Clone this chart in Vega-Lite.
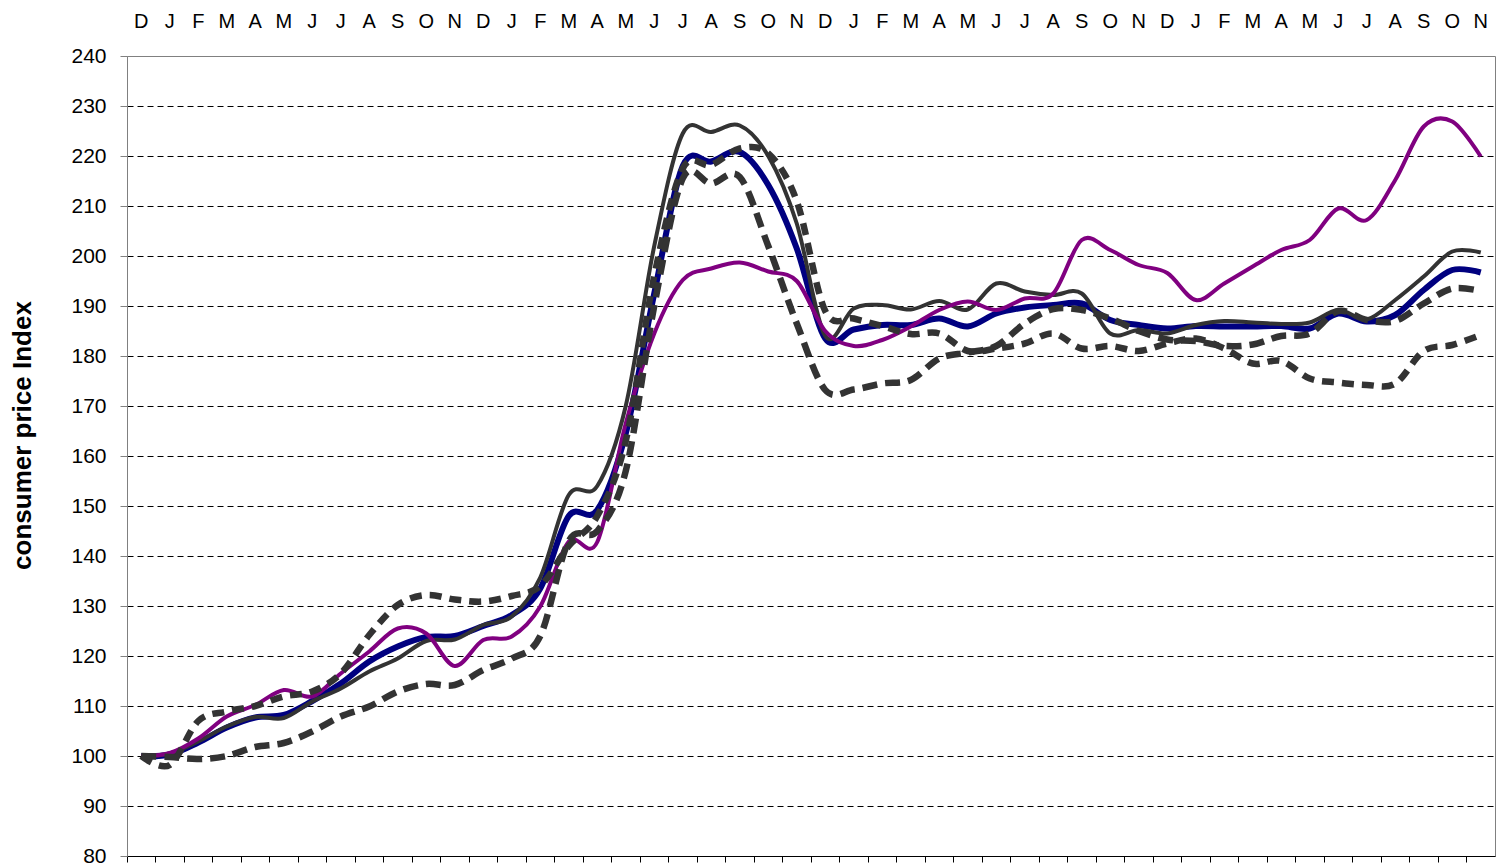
{
  "$schema": "https://vega.github.io/schema/vega-lite/v6.json",
  "width": 1368,
  "height": 800,
  "autosize": {"type": "none"},
  "padding": {"left": 127, "top": 56, "right": 2, "bottom": 11},
  "background": "white",
  "config": {"view": {"stroke": "#808080", "strokeWidth": 1}, "font": "Liberation Sans"},
  "datasets": {
    "cpi": [
      {"s":"s1","i":0,"v":100},{"s":"s1","i":1,"v":100.3},{"s":"s1","i":2,"v":102.7},{"s":"s1","i":3,"v":105.7},{"s":"s1","i":4,"v":107.7},{"s":"s1","i":5,"v":108.2},{"s":"s1","i":6,"v":111},{"s":"s1","i":7,"v":114.5},{"s":"s1","i":8,"v":118.9},{"s":"s1","i":9,"v":121.9},{"s":"s1","i":10,"v":123.8},{"s":"s1","i":11,"v":124},{"s":"s1","i":12,"v":126},{"s":"s1","i":13,"v":128.2},{"s":"s1","i":14,"v":133.5},{"s":"s1","i":15,"v":148},{"s":"s1","i":16,"v":149.2},{"s":"s1","i":17,"v":164.5},{"s":"s1","i":18,"v":192.5},{"s":"s1","i":19,"v":218},{"s":"s1","i":20,"v":218.9},{"s":"s1","i":21,"v":220.8},{"s":"s1","i":22,"v":214.2},{"s":"s1","i":23,"v":201.5},{"s":"s1","i":24,"v":183.5},{"s":"s1","i":25,"v":185.3},{"s":"s1","i":26,"v":186.2},{"s":"s1","i":27,"v":186.2},{"s":"s1","i":28,"v":187.5},{"s":"s1","i":29,"v":185.9},{"s":"s1","i":30,"v":188.5},{"s":"s1","i":31,"v":189.7},{"s":"s1","i":32,"v":190.2},{"s":"s1","i":33,"v":190.5},{"s":"s1","i":34,"v":187.2},{"s":"s1","i":35,"v":186.2},{"s":"s1","i":36,"v":185.5},{"s":"s1","i":37,"v":186},{"s":"s1","i":38,"v":185.9},{"s":"s1","i":39,"v":185.9},{"s":"s1","i":40,"v":186},{"s":"s1","i":41,"v":185.5},{"s":"s1","i":42,"v":188.5},{"s":"s1","i":43,"v":186.9},{"s":"s1","i":44,"v":188.2},{"s":"s1","i":45,"v":193.2},{"s":"s1","i":46,"v":197.2},{"s":"s1","i":47,"v":196.7},
      {"s":"s2","i":0,"v":100},{"s":"s2","i":1,"v":100.5},{"s":"s2","i":2,"v":102.9},{"s":"s2","i":3,"v":105.9},{"s":"s2","i":4,"v":107.8},{"s":"s2","i":5,"v":107.6},{"s":"s2","i":6,"v":110.9},{"s":"s2","i":7,"v":113.5},{"s":"s2","i":8,"v":116.9},{"s":"s2","i":9,"v":119.5},{"s":"s2","i":10,"v":123},{"s":"s2","i":11,"v":123.3},{"s":"s2","i":12,"v":126.2},{"s":"s2","i":13,"v":127.9},{"s":"s2","i":14,"v":135.7},{"s":"s2","i":15,"v":152.2},{"s":"s2","i":16,"v":154},{"s":"s2","i":17,"v":170},{"s":"s2","i":18,"v":202},{"s":"s2","i":19,"v":224.5},{"s":"s2","i":20,"v":224.8},{"s":"s2","i":21,"v":226.1},{"s":"s2","i":22,"v":220},{"s":"s2","i":23,"v":206.5},{"s":"s2","i":24,"v":184},{"s":"s2","i":25,"v":189.5},{"s":"s2","i":26,"v":190.2},{"s":"s2","i":27,"v":189.3},{"s":"s2","i":28,"v":191},{"s":"s2","i":29,"v":189.3},{"s":"s2","i":30,"v":194.5},{"s":"s2","i":31,"v":192.9},{"s":"s2","i":32,"v":192.2},{"s":"s2","i":33,"v":192.5},{"s":"s2","i":34,"v":184.5},{"s":"s2","i":35,"v":185.2},{"s":"s2","i":36,"v":184.5},{"s":"s2","i":37,"v":186.2},{"s":"s2","i":38,"v":187},{"s":"s2","i":39,"v":186.7},{"s":"s2","i":40,"v":186.4},{"s":"s2","i":41,"v":186.7},{"s":"s2","i":42,"v":189.2},{"s":"s2","i":43,"v":187.3},{"s":"s2","i":44,"v":191.2},{"s":"s2","i":45,"v":195.9},{"s":"s2","i":46,"v":200.9},{"s":"s2","i":47,"v":200.7},
      {"s":"s3","i":0,"v":100},{"s":"s3","i":1,"v":100.6},{"s":"s3","i":2,"v":103.5},{"s":"s3","i":3,"v":107.9},{"s":"s3","i":4,"v":110.2},{"s":"s3","i":5,"v":113.2},{"s":"s3","i":6,"v":111.9},{"s":"s3","i":7,"v":116.5},{"s":"s3","i":8,"v":120.9},{"s":"s3","i":9,"v":125.5},{"s":"s3","i":10,"v":124.5},{"s":"s3","i":11,"v":118},{"s":"s3","i":12,"v":123.2},{"s":"s3","i":13,"v":123.9},{"s":"s3","i":14,"v":129.9},{"s":"s3","i":15,"v":142.9},{"s":"s3","i":16,"v":142.8},{"s":"s3","i":17,"v":166.5},{"s":"s3","i":18,"v":184.5},{"s":"s3","i":19,"v":195.2},{"s":"s3","i":20,"v":197.5},{"s":"s3","i":21,"v":198.7},{"s":"s3","i":22,"v":196.9},{"s":"s3","i":23,"v":195},{"s":"s3","i":24,"v":185},{"s":"s3","i":25,"v":182},{"s":"s3","i":26,"v":183.2},{"s":"s3","i":27,"v":185.9},{"s":"s3","i":28,"v":189.2},{"s":"s3","i":29,"v":190.9},{"s":"s3","i":30,"v":189.2},{"s":"s3","i":31,"v":191.5},{"s":"s3","i":32,"v":192.5},{"s":"s3","i":33,"v":203.2},{"s":"s3","i":34,"v":201.2},{"s":"s3","i":35,"v":198.2},{"s":"s3","i":36,"v":196.6},{"s":"s3","i":37,"v":191.2},{"s":"s3","i":38,"v":194.5},{"s":"s3","i":39,"v":197.9},{"s":"s3","i":40,"v":201.2},{"s":"s3","i":41,"v":203.2},{"s":"s3","i":42,"v":209.5},{"s":"s3","i":43,"v":207.2},{"s":"s3","i":44,"v":215.2},{"s":"s3","i":45,"v":225.9},{"s":"s3","i":46,"v":226.9},{"s":"s3","i":47,"v":219.9},
      {"s":"s4","i":0,"v":100},{"s":"s4","i":1,"v":98.2},{"s":"s4","i":2,"v":107},{"s":"s4","i":3,"v":108.9},{"s":"s4","i":4,"v":110},{"s":"s4","i":5,"v":111.9},{"s":"s4","i":6,"v":112.9},{"s":"s4","i":7,"v":116.5},{"s":"s4","i":8,"v":124.2},{"s":"s4","i":9,"v":130.2},{"s":"s4","i":10,"v":132.2},{"s":"s4","i":11,"v":131.3},{"s":"s4","i":12,"v":130.9},{"s":"s4","i":13,"v":132},{"s":"s4","i":14,"v":134},{"s":"s4","i":15,"v":142},{"s":"s4","i":16,"v":148},{"s":"s4","i":17,"v":163},{"s":"s4","i":18,"v":196},{"s":"s4","i":19,"v":217.5},{"s":"s4","i":20,"v":218.2},{"s":"s4","i":21,"v":221.5},{"s":"s4","i":22,"v":220.5},{"s":"s4","i":23,"v":211},{"s":"s4","i":24,"v":189},{"s":"s4","i":25,"v":187.5},{"s":"s4","i":26,"v":186},{"s":"s4","i":27,"v":184.4},{"s":"s4","i":28,"v":184.5},{"s":"s4","i":29,"v":181},{"s":"s4","i":30,"v":181.5},{"s":"s4","i":31,"v":182.5},{"s":"s4","i":32,"v":184.5},{"s":"s4","i":33,"v":181.5},{"s":"s4","i":34,"v":182},{"s":"s4","i":35,"v":181},{"s":"s4","i":36,"v":182.5},{"s":"s4","i":37,"v":183.5},{"s":"s4","i":38,"v":181.5},{"s":"s4","i":39,"v":178.5},{"s":"s4","i":40,"v":179},{"s":"s4","i":41,"v":175.5},{"s":"s4","i":42,"v":174.7},{"s":"s4","i":43,"v":174.2},{"s":"s4","i":44,"v":174.5},{"s":"s4","i":45,"v":181},{"s":"s4","i":46,"v":182.2},{"s":"s4","i":47,"v":184.2},
      {"s":"s5","i":0,"v":100},{"s":"s5","i":1,"v":99.8},{"s":"s5","i":2,"v":99.4},{"s":"s5","i":3,"v":100},{"s":"s5","i":4,"v":101.8},{"s":"s5","i":5,"v":102.6},{"s":"s5","i":6,"v":104.9},{"s":"s5","i":7,"v":107.9},{"s":"s5","i":8,"v":109.9},{"s":"s5","i":9,"v":112.9},{"s":"s5","i":10,"v":114.4},{"s":"s5","i":11,"v":114.2},{"s":"s5","i":12,"v":117.2},{"s":"s5","i":13,"v":119.5},{"s":"s5","i":14,"v":124},{"s":"s5","i":15,"v":143},{"s":"s5","i":16,"v":145},{"s":"s5","i":17,"v":157},{"s":"s5","i":18,"v":190},{"s":"s5","i":19,"v":215.5},{"s":"s5","i":20,"v":214.5},{"s":"s5","i":21,"v":215.8},{"s":"s5","i":22,"v":202},{"s":"s5","i":23,"v":186.5},{"s":"s5","i":24,"v":173.2},{"s":"s5","i":25,"v":173.3},{"s":"s5","i":26,"v":174.5},{"s":"s5","i":27,"v":175.2},{"s":"s5","i":28,"v":179.5},{"s":"s5","i":29,"v":180.7},{"s":"s5","i":30,"v":182},{"s":"s5","i":31,"v":186.5},{"s":"s5","i":32,"v":189.4},{"s":"s5","i":33,"v":189.2},{"s":"s5","i":34,"v":187.5},{"s":"s5","i":35,"v":185},{"s":"s5","i":36,"v":183.3},{"s":"s5","i":37,"v":183},{"s":"s5","i":38,"v":182},{"s":"s5","i":39,"v":182.3},{"s":"s5","i":40,"v":184},{"s":"s5","i":41,"v":184.5},{"s":"s5","i":42,"v":189},{"s":"s5","i":43,"v":187.2},{"s":"s5","i":44,"v":187},{"s":"s5","i":45,"v":190.5},{"s":"s5","i":46,"v":193.5},{"s":"s5","i":47,"v":193}
    ]
  },
  "data": {"name": "cpi"},
  "encoding": {
    "y": {
      "field": "v", "type": "quantitative",
      "scale": {"domain": [80, 240], "nice": false, "zero": false},
      "axis": {
        "values": [80, 90, 100, 110, 120, 130, 140, 150, 160, 170, 180, 190, 200, 210, 220, 230, 240],
        "title": "consumer price Index",
        "titleFontSize": 26, "titleFontWeight": "bold", "titleColor": "black", "titlePadding": 35, "titleY": 379,
        "labelFontSize": 21, "labelColor": "black", "labelPadding": 14,
        "tickSize": 7, "tickColor": "#808080", "domainColor": "#808080",
        "grid": true, "gridColor": "black", "gridDash": [6, 4], "gridWidth": 1,
        "gridOpacity": {"condition": {"test": "datum.value === 80 || datum.value === 240", "value": 0}, "value": 1}
      }
    }
  },
  "layer": [
    {
      "transform": [{"filter": "datum.s === 's1'"}],
      "mark": {"type": "line", "interpolate": "cardinal", "color": "#000080", "strokeWidth": 6},
      "encoding": {
        "x": {
          "field": "i", "type": "ordinal",
          "scale": {"type": "band", "paddingInner": 0, "paddingOuter": 0},
          "axis": {
            "orient": "top", "title": null, "ticks": false, "tickSize": 0, "domain": false, "grid": false,
            "labelAngle": 0, "labelFontSize": 20, "labelColor": "black", "labelPadding": 25, "labelOverlap": false,
            "labelExpr": "['D','J','F','M','A','M','J','J','A','S','O','N'][datum.value % 12]"
          }
        }
      }
    },
    {
      "transform": [{"filter": "datum.s === 's2'"}],
      "mark": {"type": "line", "interpolate": "cardinal", "color": "#333333", "strokeWidth": 4},
      "encoding": {
        "x": {"field": "i", "type": "ordinal", "scale": {"type": "band", "paddingInner": 0, "paddingOuter": 0}, "axis": null}
      }
    },
    {
      "transform": [{"filter": "datum.s === 's3'"}],
      "mark": {"type": "line", "interpolate": "cardinal", "color": "#800080", "strokeWidth": 4},
      "encoding": {
        "x": {"field": "i", "type": "ordinal", "scale": {"type": "band", "paddingInner": 0, "paddingOuter": 0}, "axis": null}
      }
    },
    {
      "transform": [{"filter": "datum.s === 's4'"}],
      "mark": {"type": "line", "interpolate": "cardinal", "color": "#333333", "strokeWidth": 6.5, "strokeDash": [12, 8]},
      "encoding": {
        "x": {
          "field": "i", "type": "ordinal",
          "scale": {"type": "band", "paddingInner": 0, "paddingOuter": 0},
          "axis": {
            "orient": "bottom", "title": null, "labels": false, "ticks": true, "tickSize": 6, "tickColor": "black",
            "domainColor": "black", "grid": false, "bandPosition": 0
          }
        }
      }
    },
    {
      "transform": [{"filter": "datum.s === 's5'"}],
      "mark": {"type": "line", "interpolate": "cardinal", "color": "#333333", "strokeWidth": 6.5, "strokeDash": [15, 8]},
      "encoding": {
        "x": {"field": "i", "type": "ordinal", "scale": {"type": "band", "paddingInner": 0, "paddingOuter": 0}, "axis": null}
      }
    }
  ],
  "resolve": {"axis": {"x": "independent"}}
}
